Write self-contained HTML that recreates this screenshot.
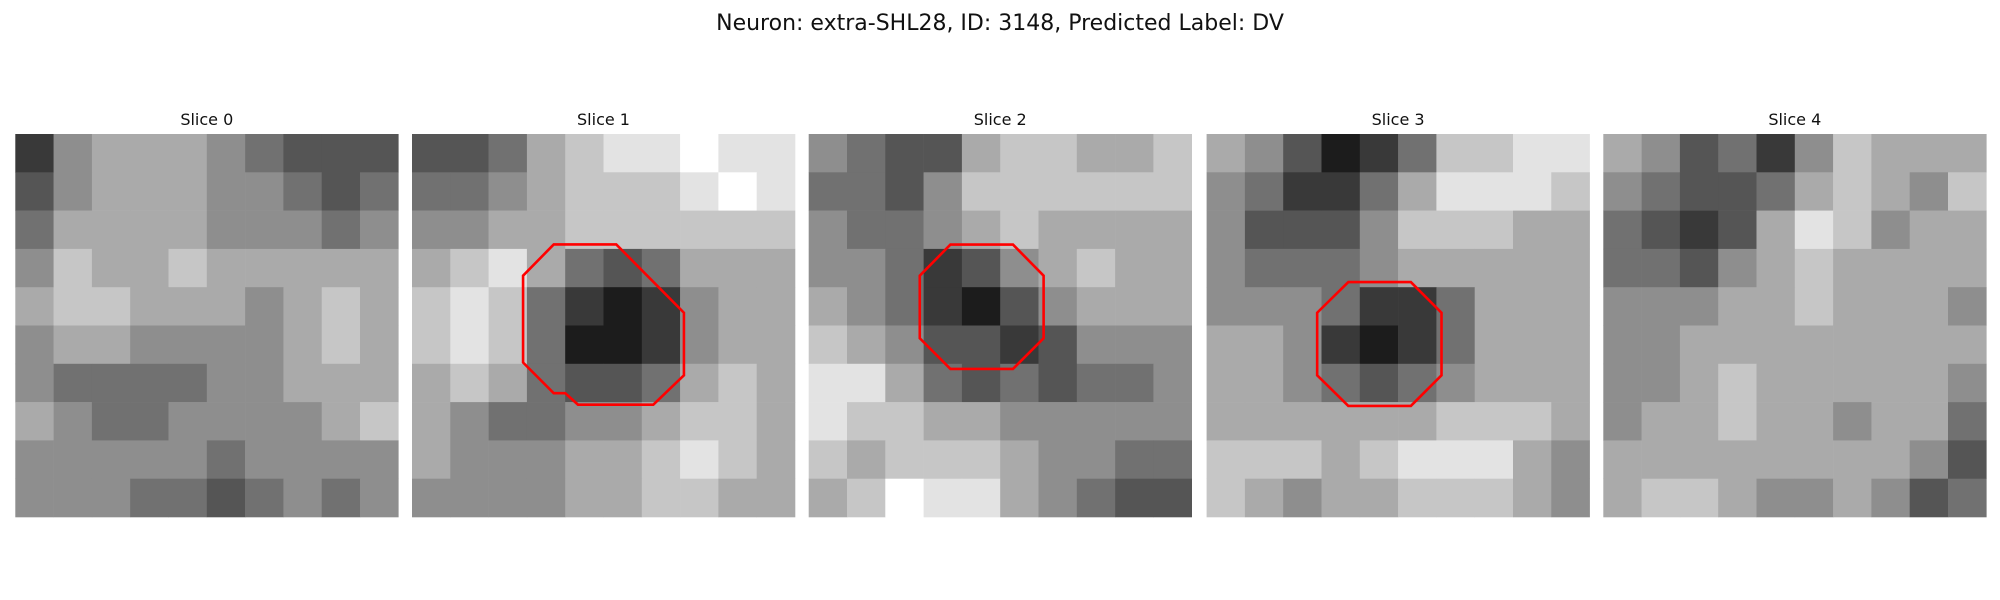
<!DOCTYPE html>
<html><head><meta charset="utf-8"><style>
html,body{margin:0;padding:0;background:#fff;}
svg{display:block;font-family:"DejaVu Sans","Liberation Sans",sans-serif;}
</style></head><body>
<svg id="fig" width="2000" height="600" viewBox="0 0 2000 600" xmlns="http://www.w3.org/2000/svg">
<rect width="2000" height="600" fill="#fff"/>
<text x="1000" y="30" text-anchor="middle" font-size="22" fill="#111">Neuron: extra-SHL28, ID: 3148, Predicted Label: DV</text>
</svg>
<script>
const sliceTitles = ["Slice 0","Slice 1","Slice 2","Slice 3","Slice 4"];
const grid0 = [
[2,5,6,6,6,5,4,3,3,3],[3,5,6,6,6,5,5,4,3,4],[4,6,6,6,6,5,5,5,4,5],[5,7,6,6,7,6,6,6,6,6],[6,7,7,6,6,6,5,6,7,6],
[5,6,6,5,5,5,5,6,7,6],[5,4,4,4,4,5,5,6,6,6],[6,5,4,4,5,5,5,5,6,7],[5,5,5,5,5,4,5,5,5,5],[5,5,5,4,4,3,4,5,4,5]];
const grid1 = [
[3,3,4,6,7,8,8,9,8,8],[4,4,5,6,7,7,7,8,9,8],[5,5,6,6,7,7,7,7,7,7],[6,7,8,6,4,3,4,6,6,6],[7,8,7,4,2,1,2,5,6,6],
[7,8,7,4,1,1,2,5,6,6],[6,7,6,4,3,3,4,6,7,6],[6,5,4,4,5,5,6,7,7,6],[6,5,5,5,6,6,7,8,7,6],[5,5,5,5,6,6,7,7,6,6]];
const grid2 = [
[5,4,3,3,6,7,7,6,6,7],[4,4,3,5,7,7,7,7,7,7],[5,4,4,5,6,7,6,6,6,6],[5,5,4,2,3,5,6,7,6,6],[6,5,4,2,1,3,5,6,6,6],
[7,6,5,3,3,2,3,5,5,5],[8,8,6,4,3,4,3,4,4,5],[8,7,7,6,6,5,5,5,5,5],[7,6,7,7,7,6,5,5,4,4],[6,7,9,8,8,6,5,4,3,3]];
const grid3 = [
[6,5,3,1,2,4,7,7,8,8],[5,4,2,2,4,6,8,8,8,7],[5,3,3,3,5,7,7,7,6,6],[5,4,4,4,5,6,6,6,6,6],[5,5,5,4,2,2,4,6,6,6],
[6,6,5,2,1,2,4,6,6,6],[6,6,5,4,3,4,5,6,6,6],[6,6,6,6,6,6,7,7,7,6],[7,7,7,6,7,8,8,8,6,5],[7,6,5,6,6,7,7,7,6,5]];
const grid4 = [
[6,5,3,4,2,5,7,6,6,6],[5,4,3,3,4,6,7,6,5,7],[4,3,2,3,6,8,7,5,6,6],[4,4,3,5,6,7,6,6,6,6],[5,5,5,6,6,7,6,6,6,5],
[5,5,6,6,6,6,6,6,6,6],[5,5,6,7,6,6,6,6,6,5],[5,6,6,7,6,6,5,6,6,4],[6,6,6,6,6,6,6,6,5,3],[6,7,7,6,5,5,6,5,3,4]];
const grids = [grid0,grid1,grid2,grid3,grid4];
const contour1 = [[11.1,8.65],[16.0,8.65],[21.3,14.0],[21.3,18.9],[18.9,21.2],[13.0,21.2],[12.0,20.3],[11.1,20.3],[8.7,17.9],[8.7,11.1]];
const contour2 = [[11.1,8.66],[16.0,8.66],[18.4,11.1],[18.4,16.0],[16.0,18.4],[11.1,18.4],[8.7,16.0],[8.7,11.1]];
const contour3 = [[11.1,11.6],[16.0,11.6],[18.4,14.0],[18.4,18.9],[16.0,21.3],[11.1,21.3],[8.66,18.9],[8.66,14.0]];
const contours = [null,contour1,contour2,contour3,null];

const NS="http://www.w3.org/2000/svg";
const svg=document.getElementById('fig');
const panelX=[15.3,412,808.7,1206.6,1603.3], panelY=134, panelW=383, imgN=30;
function sx(p,c){return panelX[p]+c*panelW/imgN;}
function sy(c){return panelY+c*panelW/imgN;}
grids.forEach((g,p)=>{
  const grp=document.createElementNS(NS,'g');
  
  
  svg.appendChild(grp);
  const t=document.createElementNS(NS,'text');
  
  
  t.setAttribute('x',panelX[p]+panelW/2);t.setAttribute('y',125);
  t.setAttribute('text-anchor','middle');t.setAttribute('font-size','16');t.setAttribute('fill','#111');
  t.textContent=sliceTitles[p];grp.appendChild(t);
  const n=g.length, cs=imgN/n;
  g.forEach((row,r)=>row.forEach((v,c)=>{
    const rc=document.createElementNS(NS,'rect');
    
    
    const x0=sx(p,c*cs), y0=sy(r*cs);
    rc.setAttribute('x',x0);rc.setAttribute('y',y0);
    rc.setAttribute('width',sx(p,(c+1)*cs)-x0+0.3);rc.setAttribute('height',sy((r+1)*cs)-y0+0.3);
    const gv=Math.round(v*255/9);
    rc.setAttribute('fill','rgb('+gv+','+gv+','+gv+')');
    grp.appendChild(rc);
  }));
  const ct=contours[p];
  if(ct){
    const pl=document.createElementNS(NS,'polygon');
    
    
    pl.setAttribute('points',ct.map(q=>sx(p,q[0])+','+sy(q[1])).join(' '));
    pl.setAttribute('fill','none');pl.setAttribute('stroke','#ff0000');pl.setAttribute('stroke-width','2.6');
    grp.appendChild(pl);
  }
});
</script>
</body></html>
